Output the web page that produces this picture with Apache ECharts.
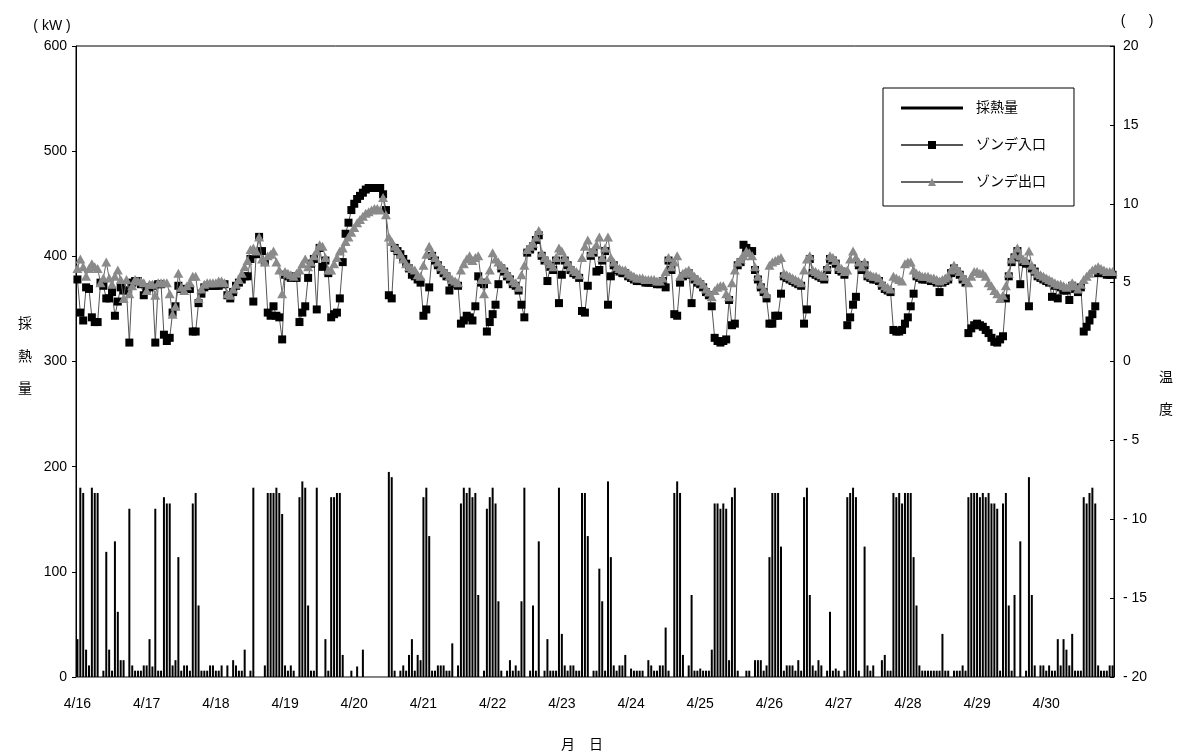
<!DOCTYPE html>
<html>
<head>
<meta charset="utf-8">
<script src="https://cdn.jsdelivr.net/npm/echarts@6/dist/echarts.min.js"></script>
<style>
html, body { margin: 0; padding: 0; background: #fff; }
#main { width: 1177px; height: 755px; }
</style>
</head>
<body>
<div id="main"></div>
<script>
// 日付（1日24点、毎時データ）
var days = ["4/16", "4/17", "4/18", "4/19", "4/20", "4/21", "4/22", "4/23",
            "4/24", "4/25", "4/26", "4/27", "4/28", "4/29", "4/30"];

// 採熱量 (kW)
var heat = [
  36,180,175,26,11,180,175,175,0,6,119,26,6,129,62,16,16,0,160,11,6,6,6,11,
  11,36,10,160,6,6,171,165,165,11,16,114,6,11,11,6,165,175,68,6,6,6,11,11,
  6,6,11,0,11,0,16,11,6,6,26,0,6,180,0,0,0,11,175,175,175,180,175,155,
  11,6,11,6,0,171,186,180,68,6,6,180,0,0,36,6,171,171,175,175,21,0,0,6,
  0,10,0,26,0,0,0,0,0,0,0,0,195,190,6,0,6,11,6,21,36,6,21,16,
  171,180,134,6,6,11,11,11,6,6,32,0,11,165,180,175,180,171,175,78,0,6,160,171,
  180,165,72,6,0,6,16,6,11,6,72,180,0,6,68,6,129,0,6,36,6,6,6,180,
  41,11,6,11,11,6,6,175,175,134,0,6,6,103,72,6,186,114,11,6,11,11,21,0,
  8,6,6,6,6,0,16,11,6,6,11,11,47,6,0,175,186,175,21,0,11,78,6,6,
  8,6,6,6,26,165,165,160,165,160,16,171,180,6,0,0,6,6,0,16,16,16,6,11,
  114,175,175,175,124,6,11,11,11,6,16,6,171,180,78,11,6,16,11,0,6,62,6,8,
  6,0,6,171,175,180,171,6,0,124,11,6,11,0,0,16,21,6,6,175,171,175,165,175,
  175,175,114,68,11,6,6,6,6,6,6,6,41,6,6,0,6,6,6,11,6,171,175,175,
  175,171,175,171,175,165,165,160,6,165,175,68,6,78,0,129,0,6,190,78,11,0,11,11,
  6,11,6,6,36,11,36,26,11,41,6,6,6,171,165,175,180,165,11,6,6,6,11,11
];

// ゾンデ入口温度
var inlet = [
  5.2,3.1,2.6,4.7,4.6,2.8,2.5,2.5,5.0,4.8,4.0,4.0,4.4,2.9,3.8,4.7,4.5,4.5,1.2,5.0,5.1,5.1,4.9,4.2,
  4.6,4.7,4.8,1.2,4.9,4.9,1.7,1.3,1.5,3.1,3.5,4.8,4.6,4.6,4.6,4.6,1.9,1.9,3.7,4.3,4.7,4.8,4.8,4.8,
  4.8,4.8,4.9,4.9,4.2,4.0,4.4,4.8,5.0,5.2,5.4,5.4,6.5,3.8,6.8,7.9,7.0,6.3,3.1,2.9,3.5,2.9,2.8,1.4,
  5.5,5.4,5.3,5.4,5.3,2.5,3.1,3.5,5.3,6.2,6.5,3.3,7.2,6.0,6.4,5.6,2.8,3.0,3.1,4.0,6.3,8.1,8.8,9.6,
  10.0,10.3,10.5,10.7,10.9,11.0,11.0,11.0,11.0,11.0,10.6,9.6,4.2,4.0,7.2,7.0,6.8,6.5,6.2,5.9,5.5,5.4,5.2,5.0,
  2.9,3.3,4.7,6.7,6.4,6.1,5.8,5.6,5.4,4.5,5.0,4.9,4.8,2.4,2.6,2.9,2.8,2.6,3.5,5.4,5.0,4.9,1.9,2.5,
  3.0,3.6,4.9,5.9,5.7,5.4,5.2,4.9,4.8,4.5,3.6,2.8,6.9,7.1,7.3,7.7,8.0,6.7,6.4,5.1,6.0,5.8,6.4,3.7,
  5.5,6.4,6.1,5.8,5.6,5.5,5.3,3.2,3.1,4.8,6.7,6.9,5.7,5.8,6.4,7.0,3.6,5.4,6.1,5.8,5.7,5.6,5.6,5.4,
  5.3,5.2,5.1,5.1,5.1,5.0,5.0,5.0,5.0,4.9,4.9,5.1,4.7,6.4,5.8,3.0,2.9,5.0,5.4,5.5,5.6,3.7,5.2,5.0,
  4.9,4.7,4.4,4.2,3.5,1.5,1.3,1.2,1.3,1.4,3.9,2.3,2.4,6.1,6.3,7.4,7.2,7.0,7.0,5.8,5.2,4.7,4.4,4.0,
  2.4,2.4,2.9,2.9,4.3,5.4,5.3,5.2,5.1,5.0,4.9,4.8,2.4,3.3,6.5,5.6,5.5,5.4,5.3,5.2,5.8,6.5,6.4,6.2,
  5.8,5.7,5.5,2.3,2.8,3.6,4.1,6.1,5.8,6.1,5.4,5.3,5.2,5.2,5.1,4.8,4.6,4.5,4.4,2.0,1.9,1.9,2.0,2.4,
  2.8,3.5,4.3,5.4,5.3,5.2,5.2,5.2,5.1,5.1,5.0,4.4,5.0,5.1,5.2,5.6,5.9,5.7,5.5,5.2,5.0,1.8,2.1,2.3,
  2.4,2.3,2.2,2.0,1.8,1.5,1.25,1.2,1.4,1.6,4.0,5.4,6.3,6.6,7.0,4.9,6.3,6.2,3.5,5.9,5.7,5.4,5.3,5.2,
  5.1,5.0,4.1,4.8,4.0,4.7,4.5,4.5,3.9,4.8,4.6,4.4,4.7,1.9,2.2,2.6,3.0,3.5,5.6,5.7,5.6,5.5,5.5,5.5
];

// ゾンデ出口温度
var outlet = [
  5.9,6.5,6.0,5.4,5.9,6.2,6.0,5.9,5.0,5.3,6.3,5.3,4.9,5.4,5.8,5.2,4.0,5.2,4.3,4.8,5.2,5.1,5.1,5.0,
  4.5,4.9,4.9,4.2,5.0,5.0,5.0,5.0,4.3,3.0,3.5,5.6,4.7,4.5,4.8,5.0,5.4,5.4,4.0,4.6,4.9,5.0,5.0,5.0,
  5.0,5.1,5.1,5.0,4.3,4.2,4.6,4.9,5.2,5.6,6.0,6.4,7.1,7.2,7.0,7.9,6.5,6.3,6.7,6.8,7.0,6.3,5.8,4.3,
  5.7,5.6,5.5,5.4,5.6,5.8,6.2,6.5,6.0,6.3,6.7,7.0,7.4,7.3,6.6,5.8,5.8,6.2,6.6,7.0,7.2,7.6,7.9,8.2,
  8.5,8.8,9.0,9.2,9.4,9.5,9.6,9.7,9.7,9.6,10.4,9.3,7.9,7.6,7.3,7.1,6.8,6.5,6.2,6.0,5.9,5.8,5.5,5.4,
  6.1,6.8,7.3,6.9,6.6,6.3,6.0,5.8,5.6,5.4,5.2,5.1,5.0,5.8,6.2,6.5,6.7,6.4,6.6,6.7,5.2,4.3,5.2,5.8,
  6.9,6.5,6.3,6.1,5.9,5.6,5.4,5.1,5.0,4.7,5.5,6.1,7.1,7.3,7.5,7.9,8.3,6.9,6.6,6.4,6.2,6.0,6.6,7.2,
  7.0,6.6,6.3,6.0,5.8,5.7,5.5,6.6,7.3,7.7,6.9,7.1,7.4,7.9,6.6,7.2,7.9,6.6,6.3,6.0,5.9,5.8,5.8,5.6,
  5.5,5.4,5.3,5.3,5.3,5.2,5.2,5.2,5.2,5.1,5.1,5.3,5.7,6.6,6.0,6.3,6.7,5.4,5.6,5.7,5.8,5.6,5.4,5.2,
  5.1,4.9,4.6,4.4,4.1,4.5,4.7,4.8,4.8,4.3,4.1,5.0,5.8,6.3,6.5,6.7,7.0,6.9,6.7,6.0,5.4,4.9,4.6,4.3,
  6.1,6.3,6.4,6.5,6.6,5.6,5.5,5.4,5.3,5.2,5.1,5.0,5.8,6.5,6.7,5.8,5.7,5.6,5.5,5.4,6.0,6.7,6.6,6.4,
  6.0,5.9,5.7,5.8,6.5,7.0,6.6,6.3,6.0,6.3,5.6,5.5,5.4,5.4,5.3,5.0,4.8,4.7,4.6,5.4,5.3,5.2,5.1,6.2,
  6.3,6.3,5.8,5.6,5.5,5.4,5.4,5.4,5.3,5.3,5.2,5.1,5.2,5.3,5.4,5.8,6.1,5.9,5.7,5.4,5.2,5.0,5.4,5.7,
  5.7,5.6,5.6,5.4,5.0,4.8,4.5,4.3,4.0,4.2,4.8,5.6,6.5,6.8,7.2,6.7,6.5,6.4,7.0,6.1,5.8,5.6,5.5,5.4,
  5.3,5.2,5.1,5.0,4.9,4.9,4.8,4.7,4.8,5.0,4.8,4.6,4.9,5.2,5.4,5.6,5.8,5.9,6.0,5.9,5.8,5.7,5.7,5.7
];

var hours = [];
for (var d = 0; d < days.length; d++) {
  for (var h = 0; h < 24; h++) {
    hours.push(days[d] + " " + h);
  }
}

var font = "'Liberation Sans', Arial, 'Noto Sans CJK JP', sans-serif";

var myChart = echarts.init(document.getElementById("main"));
myChart.setOption({
  animation: false,
  backgroundColor: "#fff",
  grid: {
    left: 76,
    right: 63,
    top: 46,
    bottom: 78,
    containLabel: false,
    outerBoundsMode: "none",
    show: true,
    borderColor: "#000",
    borderWidth: 1,
    backgroundColor: "#fff"
  },
  legend: {
    orient: "vertical",
    left: 883,
    top: 88,
    itemWidth: 62,
    itemHeight: 10,
    itemGap: 21,
    padding: [12, 28, 16, 17],
    borderColor: "#000",
    borderWidth: 1,
    backgroundColor: "#fff",
    textStyle: {
      fontSize: 14,
      lineHeight: 16,
      color: "#000",
      fontFamily: font,
      padding: [0, 0, 0, 8]
    },
    data: [
      { name: "採熱量", icon: "path://M0,0H62V3H0Z" },
      "ゾンデ入口",
      "ゾンデ出口"
    ]
  },
  xAxis: {
    type: "category",
    data: hours,
    boundaryGap: true,
    axisLine: { lineStyle: { color: "#888", width: 1 } },
    axisTick: { show: false },
    splitLine: { show: false },
    axisLabel: {
      interval: function (idx) { return idx % 24 === 0; },
      formatter: function (v) { return v.split(" ")[0]; },
      margin: 20,
      fontSize: 14,
      color: "#000",
      fontFamily: font
    }
  },
  yAxis: [
    {
      type: "value",
      min: 0,
      max: 600,
      interval: 100,
      position: "left",
      axisLine: { show: true, lineStyle: { color: "#000" } },
      axisTick: { show: true, length: 4, lineStyle: { color: "#000" } },
      splitLine: { show: false },
      axisLabel: { margin: 9, fontSize: 14, color: "#000", fontFamily: font }
    },
    {
      type: "value",
      min: -20,
      max: 20,
      interval: 5,
      position: "right",
      axisLine: { show: true, lineStyle: { color: "#000" } },
      axisTick: { show: true, inside: true, length: 4, lineStyle: { color: "#000" } },
      splitLine: { show: false },
      axisLabel: {
        margin: 9,
        fontSize: 14,
        color: "#000",
        fontFamily: font,
        formatter: function (v) { return v < 0 ? "- " + (-v) : String(v); }
      }
    }
  ],
  graphic: [
    { type: "text", x: 52, y: 26, style: { text: "( kW )", font: "14px " + font, fill: "#000", align: "center", verticalAlign: "middle" } },
    { type: "text", x: 1137, y: 21, style: { text: "(      )", font: "14px " + font, fill: "#000", align: "center", verticalAlign: "middle" } },
    { type: "text", x: 25, y: 357, style: { text: "採\n熱\n量", font: "14px " + font, lineHeight: 32.5, fill: "#000", align: "center", verticalAlign: "middle" } },
    { type: "text", x: 1166, y: 394, style: { text: "温\n度", font: "14px " + font, lineHeight: 32, fill: "#000", align: "center", verticalAlign: "middle" } },
    { type: "text", x: 582, y: 745, style: { text: "月　日", font: "14px " + font, fill: "#000", align: "center", verticalAlign: "middle" } }
  ],
  series: [
    {
      name: "採熱量",
      type: "bar",
      yAxisIndex: 0,
      data: heat,
      barWidth: 2,
      itemStyle: { color: "#000" },
      emphasis: { disabled: true },
      z: 1
    },
    {
      name: "ゾンデ入口",
      type: "line",
      yAxisIndex: 1,
      data: inlet,
      symbol: "rect",
      symbolSize: 8,
      showAllSymbol: true,
      lineStyle: { color: "#555", width: 1 },
      itemStyle: { color: "#000" },
      emphasis: { disabled: true },
      z: 3
    },
    {
      name: "ゾンデ出口",
      type: "line",
      yAxisIndex: 1,
      data: outlet,
      symbol: "triangle",
      symbolSize: [10, 9],
      showAllSymbol: true,
      lineStyle: { color: "#666", width: 1 },
      itemStyle: { color: "#8a8a8a" },
      emphasis: { disabled: true },
      z: 4
    }
  ]
});
</script>
</body>
</html>
